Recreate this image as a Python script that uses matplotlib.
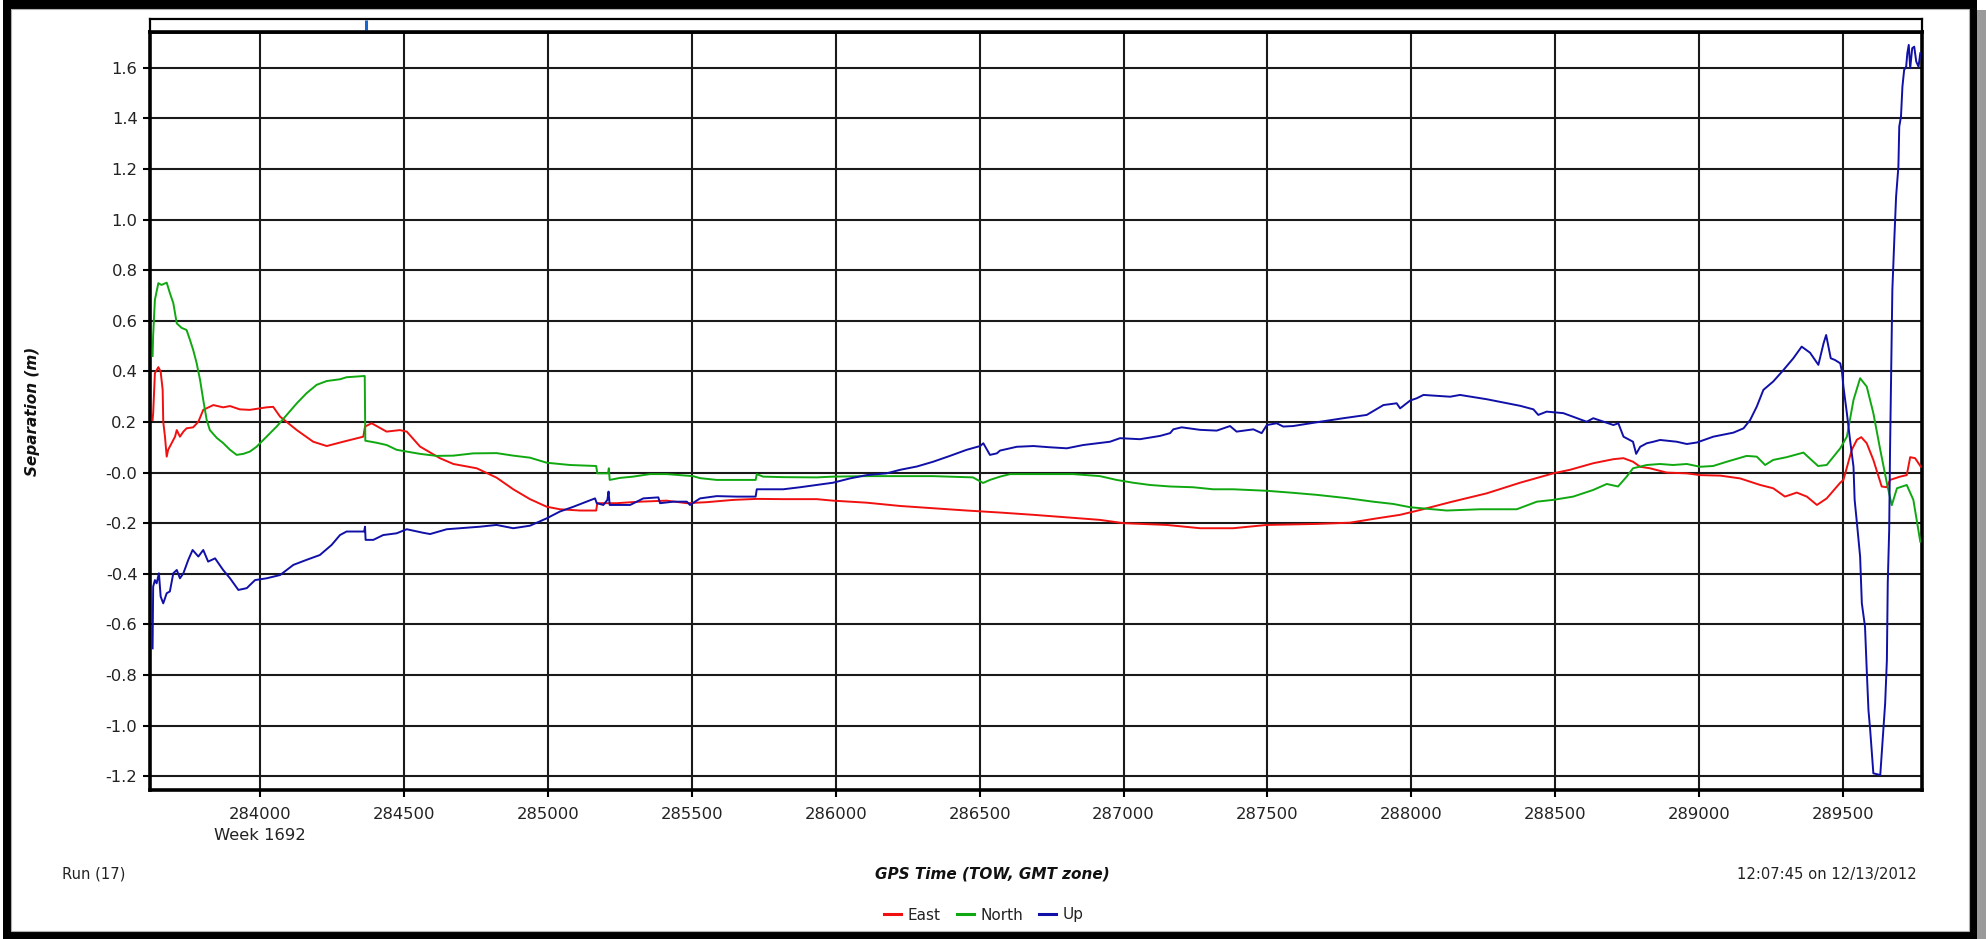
import matplotlib
matplotlib.use("Agg")
import matplotlib.pyplot as plt
from matplotlib.patches import Rectangle
from matplotlib.lines import Line2D

# GPS time of week (s) and separation (m) for each component
east_t = [283627, 283629, 283635, 283647, 283655, 283662, 283664, 283670, 283676, 283681,
          283693, 283705, 283711, 283722, 283734, 283745, 283768, 283786, 283803, 283838,
          283872, 283896, 283930, 283965, 284023, 284046, 284070, 284128, 284185, 284232,
          284289, 284359, 284365, 284388, 284440, 284486, 284510, 284556, 284625, 284672,
          284753, 284822, 284880, 284938, 284996, 285042, 285112, 285168, 285172, 285239,
          285320, 285413, 285483, 285552, 285644, 285726, 285818, 285934, 285991, 286108,
          286224, 286339, 286455, 286571, 286687, 286803, 286918, 287000, 287150, 287266,
          287381, 287498, 287671, 287787, 287880, 287961, 288030, 288135, 288262, 288378,
          288493, 288551, 288632, 288702, 288737, 288770, 288795, 288829, 288887, 288957,
          289003, 289073, 289142, 289212, 289257, 289298, 289339, 289374, 289409, 289443,
          289490, 289501, 289530, 289548, 289563, 289582, 289605, 289634, 289652, 289663,
          289698, 289721, 289733, 289750, 289770]
east_m = [0.208, 0.235, 0.393, 0.417, 0.399, 0.327, 0.201, 0.142, 0.063, 0.090,
          0.116, 0.142, 0.168, 0.142, 0.162, 0.175, 0.179, 0.201, 0.248, 0.267,
          0.258, 0.263, 0.250, 0.248, 0.258, 0.260, 0.221, 0.168, 0.122, 0.105,
          0.122, 0.142, 0.182, 0.195, 0.162, 0.168, 0.162, 0.103, 0.057, 0.034,
          0.017, -0.020, -0.066, -0.105, -0.135, -0.145, -0.150, -0.150, -0.121, -0.121,
          -0.115, -0.111, -0.121, -0.117, -0.108, -0.104, -0.105, -0.105, -0.111, -0.119,
          -0.132, -0.141, -0.150, -0.158, -0.167, -0.177, -0.187, -0.200, -0.207, -0.220,
          -0.220, -0.207, -0.203, -0.198, -0.181, -0.167, -0.148, -0.117, -0.082, -0.040,
          -0.003, 0.011, 0.037, 0.053, 0.057, 0.043, 0.023, 0.017, 0.000, -0.003,
          -0.010, -0.012, -0.023, -0.049, -0.062, -0.095, -0.079, -0.095, -0.128, -0.102,
          -0.040, -0.029, 0.090, 0.130, 0.140, 0.116, 0.050, -0.055, -0.058, -0.029,
          -0.016, -0.010, 0.061, 0.057, 0.023]

north_t = [283627, 283629, 283635, 283647, 283658, 283676, 283687, 283699, 283711, 283728,
           283745, 283757, 283768, 283780, 283792, 283803, 283815, 283826, 283850, 283872,
           283896, 283919, 283942, 283965, 283988, 284023, 284058, 284093, 284128, 284162,
           284197, 284232, 284278, 284301, 284364, 284366, 284405, 284440, 284475, 284510,
           284556, 284614, 284672, 284741, 284822, 284880, 284938, 284996, 285077, 285168,
           285172, 285209, 285212, 285215, 285251, 285296, 285355, 285413, 285459, 285504,
           285529, 285587, 285643, 285722, 285726, 285748, 285817, 285934, 285991, 286108,
           286224, 286338, 286477, 286512, 286536, 286571, 286606, 286710, 286825, 286918,
           286976, 287033, 287092, 287162, 287242, 287311, 287381, 287498, 287589, 287671,
           287776, 287867, 287937, 287996, 288076, 288123, 288239, 288366, 288436, 288492,
           288562, 288631, 288679, 288718, 288748, 288770, 288818, 288864, 288909, 288957,
           289003, 289048, 289096, 289165, 289200, 289229, 289257, 289304, 289362, 289413,
           289443, 289490, 289513, 289536, 289559, 289582, 289605, 289629, 289652, 289669,
           289687, 289721, 289744, 289768]
north_m = [0.461, 0.544, 0.683, 0.749, 0.742, 0.751, 0.710, 0.670, 0.590, 0.572,
           0.564, 0.524, 0.485, 0.433, 0.366, 0.287, 0.208, 0.168, 0.137, 0.117,
           0.090, 0.070, 0.074, 0.083, 0.102, 0.142, 0.182, 0.228, 0.274, 0.314,
           0.347, 0.362, 0.369, 0.377, 0.382, 0.126, 0.118, 0.109, 0.090, 0.083,
           0.074, 0.066, 0.067, 0.076, 0.077, 0.067, 0.059, 0.039, 0.030, 0.026,
           -0.003, -0.003, 0.017, -0.029, -0.021, -0.016, -0.006, -0.006, -0.010, -0.014,
           -0.022, -0.029, -0.029, -0.029, -0.006, -0.016, -0.018, -0.019, -0.016, -0.014,
           -0.014, -0.014, -0.019, -0.041, -0.029, -0.016, -0.006, -0.006, -0.006, -0.014,
           -0.029, -0.040, -0.049, -0.055, -0.058, -0.066, -0.066, -0.072, -0.080, -0.088,
           -0.101, -0.115, -0.124, -0.137, -0.145, -0.150, -0.145, -0.145, -0.115, -0.108,
           -0.095, -0.069, -0.045, -0.055, -0.016, 0.017, 0.030, 0.034, 0.030, 0.034,
           0.023, 0.026, 0.043, 0.066, 0.063, 0.030, 0.050, 0.061, 0.079, 0.026,
           0.030, 0.096, 0.142, 0.287, 0.373, 0.340, 0.235, 0.090, -0.042, -0.129,
           -0.062, -0.049, -0.108, -0.273]

up_t = [283627, 283629, 283635, 283641, 283649, 283655, 283664, 283676, 283687, 283699,
        283711, 283722, 283734, 283751, 283766, 283786, 283803, 283820, 283844, 283872,
        283896, 283925, 283954, 283983, 284023, 284070, 284116, 284162, 284208, 284249,
        284278, 284301, 284362, 284365, 284367, 284394, 284428, 284475, 284510, 284567,
        284591, 284649, 284764, 284822, 284880, 284938, 284996, 285042, 285089, 285135,
        285164, 285170, 285193, 285207, 285211, 285215, 285286, 285332, 285384, 285390,
        285436, 285483, 285494, 285529, 285587, 285656, 285722, 285726, 285818, 285876,
        285934, 285991, 286050, 286108, 286177, 286224, 286282, 286339, 286397, 286455,
        286502, 286513, 286536, 286560, 286571, 286629, 286687, 286745, 286803, 286860,
        286953, 286988, 287057, 287127, 287162, 287173, 287202, 287266, 287324, 287370,
        287393, 287451, 287480, 287498, 287532, 287555, 287589, 287683, 287764, 287845,
        287903, 287949, 287961, 287996, 288019, 288042, 288135, 288169, 288262, 288378,
        288424, 288441, 288470, 288528, 288609, 288632, 288702, 288719, 288737, 288770,
        288781, 288795, 288818, 288841, 288864, 288922, 288957, 288992, 289049, 289119,
        289154, 289177, 289200, 289223, 289257, 289293, 289327, 289356, 289385, 289414,
        289432, 289441, 289457, 289472, 289490, 289496, 289501, 289513, 289524, 289536,
        289540, 289548, 289559, 289565, 289576, 289582, 289588, 289594, 289605, 289629,
        289638, 289646, 289652, 289655, 289660, 289663, 289667, 289671, 289678, 289684,
        289692, 289695, 289701, 289706, 289712, 289719, 289723, 289728, 289733, 289740,
        289747, 289754, 289762, 289768]
up_m = [-0.695, -0.451, -0.425, -0.438, -0.398, -0.490, -0.517, -0.477, -0.470, -0.398,
        -0.385, -0.418, -0.398, -0.345, -0.306, -0.332, -0.306, -0.352, -0.339, -0.385,
        -0.418, -0.464, -0.457, -0.425, -0.418, -0.405, -0.365, -0.345, -0.326, -0.286,
        -0.247, -0.233, -0.233, -0.214, -0.266, -0.266, -0.247, -0.240, -0.224, -0.238,
        -0.243, -0.224, -0.214, -0.207, -0.220, -0.210, -0.181, -0.154, -0.135, -0.115,
        -0.102, -0.121, -0.128, -0.108, -0.075, -0.128, -0.128, -0.102, -0.098, -0.121,
        -0.115, -0.115, -0.128, -0.102, -0.093, -0.095, -0.095, -0.066, -0.066, -0.058,
        -0.049, -0.040, -0.023, -0.010, -0.003, 0.011, 0.024, 0.043, 0.066, 0.090,
        0.105, 0.116, 0.070, 0.076, 0.087, 0.102, 0.105, 0.100, 0.096, 0.109,
        0.122, 0.136, 0.132, 0.145, 0.156, 0.171, 0.179, 0.169, 0.166, 0.184,
        0.162, 0.171, 0.156, 0.188, 0.195, 0.182, 0.184, 0.201, 0.215, 0.228,
        0.267, 0.274, 0.254, 0.285, 0.294, 0.307, 0.300, 0.307, 0.290, 0.264,
        0.250, 0.228, 0.241, 0.235, 0.201, 0.215, 0.188, 0.195, 0.142, 0.122,
        0.074, 0.102, 0.116, 0.122, 0.129, 0.122, 0.113, 0.119, 0.142, 0.158,
        0.175, 0.208, 0.261, 0.327, 0.360, 0.406, 0.452, 0.498, 0.474, 0.426,
        0.511, 0.544, 0.452, 0.445, 0.432, 0.399, 0.340, 0.235, 0.129, 0.023,
        -0.108, -0.200, -0.332, -0.517, -0.609, -0.780, -0.939, -1.018, -1.189, -1.196,
        -1.044, -0.912, -0.741, -0.438, -0.227, 0.090, 0.419, 0.722, 0.927, 1.091,
        1.210, 1.368, 1.408, 1.526, 1.592, 1.605, 1.658, 1.691, 1.599, 1.678,
        1.684, 1.625, 1.605, 1.658]

x_ticks = [284000, 284500, 285000, 285500, 286000, 286500, 287000, 287500,
           288000, 288500, 289000, 289500]
y_ticks = [-1.2, -1.0, -0.8, -0.6, -0.4, -0.2, 0.0, 0.2, 0.4, 0.6, 0.8, 1.0, 1.2, 1.4, 1.6]
y_tick_labels = ["-1.2", "-1.0", "-0.8", "-0.6", "-0.4", "-0.2", "-0.0", "0.2", "0.4",
                 "0.6", "0.8", "1.0", "1.2", "1.4", "1.6"]
marker_time = 284368

series = [("East", east_t, east_m, "#f01010"),
          ("North", north_t, north_m, "#10a810"),
          ("Up", up_t, up_m, "#1010a8")]

W, H = 1986, 939
fig = plt.figure(figsize=(W / 100, H / 100), dpi=100)


def fx(px):
    return px / W


def fy(py):
    return 1 - py / H


x_lo, x_hi = 283618, 289774
y_lo, y_hi = -1.255, 1.742

ax = fig.add_axes([fx(150), fy(790), fx(1922) - fx(150), fy(32) - fy(790)])
for name, t, m, c in series:
    ax.plot(t, m, color=c, lw=1.4, label=name, zorder=3)
ax.set_xlim(x_lo, x_hi)
ax.set_ylim(y_lo, y_hi)
ax.set_xticks(x_ticks)
ax.set_xticklabels([str(v) for v in x_ticks])
ax.set_yticks(y_ticks)
ax.set_yticklabels(y_tick_labels)
ax.set_axisbelow(True)
ax.grid(True, color="#1a1a1a", lw=1.5)
for s in ax.spines.values():
    s.set_linewidth(2.6)
    s.set_color("black")
ax.tick_params(axis="both", direction="out", length=5, width=1.5, color="black",
               labelsize=11.8, labelcolor="#222222")
ax.tick_params(axis="y", pad=4)
ax.tick_params(axis="x", pad=7)

# narrow marker strip above the plot
ax_top = fig.add_axes([fx(150), fy(32), fx(1922) - fx(150), fy(19) - fy(32)])
ax_top.set_xlim(x_lo, x_hi)
ax_top.set_ylim(0, 1)
ax_top.set_xticks([])
ax_top.set_yticks([])
for side, s in ax_top.spines.items():
    s.set_color("black")
    s.set_linewidth(1.6)
ax_top.spines["bottom"].set_linewidth(2.6)
ax_top.vlines(marker_time, 0.15, 0.9, color="#1566d0", lw=2.2)

txt = dict(color="#222222", fontsize=10.6)
fig.text(fx(33), fy(411), "Separation (m)", rotation=90, ha="center", va="center",
         fontsize=11, fontweight="bold", fontstyle="italic", color="#111111")
fig.text(fx(260), fy(835), "Week 1692", ha="center", va="center", fontsize=11.8,
         color="#222222")
fig.text(fx(62), fy(874), "Run (17)", ha="left", va="center", **txt)
fig.text(fx(992), fy(874), "GPS Time (TOW, GMT zone)", ha="center", va="center",
         fontsize=11, fontweight="bold", fontstyle="italic", color="#111111")
fig.text(fx(1917), fy(874), "12:07:45 on 12/13/2012", ha="right", va="center", **txt)

handles = [Line2D([], [], color=c, lw=2.2) for _, _, _, c in series]
fig.legend(handles, [n for n, _, _, _ in series], loc="center",
           bbox_to_anchor=(fx(984), fy(915)), ncol=3, frameon=False, fontsize=11,
           handlelength=1.1, handletextpad=0.45, columnspacing=1.05,
           labelcolor="#222222")

# window frame with a drop shadow on the right
frame = [(3, 0, 8, 939), (3, 0, 1974, 9), (1969, 0, 8, 939), (3, 931, 1974, 8)]
for x0, y0, w, h in frame:
    fig.add_artist(Rectangle((fx(x0), fy(y0 + h)), w / W, h / H, transform=fig.transFigure,
                             facecolor="black", edgecolor="none", zorder=10))
fig.add_artist(Rectangle((fx(1977), fy(939)), 9 / W, 929 / H, transform=fig.transFigure,
                         facecolor="#9a9a9a", edgecolor="none", zorder=10))
fig.add_artist(Rectangle((fx(11), fy(931)), (1969 - 11) / W, (931 - 9) / H,
                         transform=fig.transFigure, facecolor="none",
                         edgecolor="#b0b0b0", lw=0.8, zorder=10))

fig.savefig("out.png", dpi=100)
